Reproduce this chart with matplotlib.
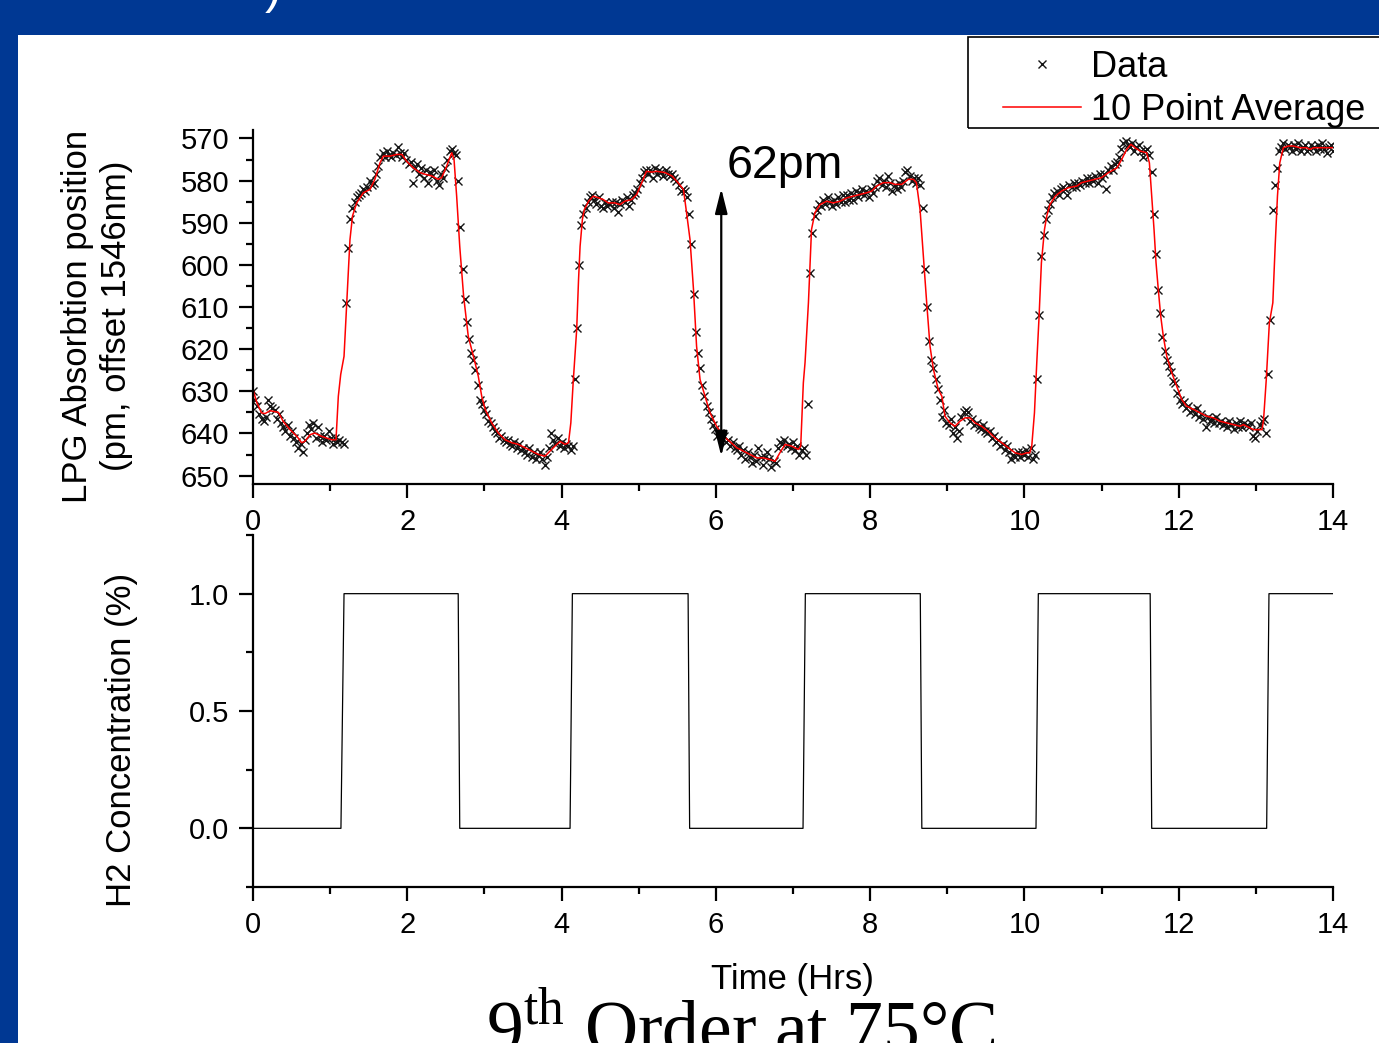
import matplotlib.pyplot as plt
from matplotlib.patches import Rectangle
from matplotlib.ticker import MultipleLocator
import numpy as np

plt.rcParams["font.family"] = ["Liberation Sans", "DejaVu Sans"]
plt.rcParams["mathtext.fontset"] = "custom"
plt.rcParams["mathtext.rm"] = "Liberation Serif"

SLIDE_BLUE = "#003893"

# LPG absorption position (pm, offset 1546nm), one reading every SAMPLE_HRS
SAMPLE_HRS = 0.028
LPG_POS = [
    630.0, 632.0, 633.5, 635.5, 636.5, 637.0, 636.0, 632.0, 633.5, 634.0,
    634.5, 636.5, 635.5, 637.5, 638.5, 639.5, 638.0, 640.5, 639.5, 641.0,
    642.0, 643.5, 642.5, 644.5, 641.5, 640.0, 638.0, 639.0, 637.5, 641.0,
    638.5, 640.5, 642.0, 640.5, 641.5, 639.5, 641.0, 642.5, 641.0, 642.0,
    641.5, 642.0, 642.5, 609.0, 596.0, 589.0, 586.5, 585.0, 584.0, 583.5,
    583.0, 582.0, 582.5, 581.5, 580.0, 581.0, 580.5, 578.5, 576.5, 574.5,
    573.5, 574.5, 573.0, 574.0, 574.5, 573.5, 574.0, 572.0, 573.5, 574.5,
    573.5, 575.0, 576.0, 575.5, 580.5, 577.0, 576.0, 578.5, 577.0, 579.5,
    577.5, 580.5, 578.0, 579.0, 577.5, 580.0, 581.0, 578.5, 579.5, 577.0,
    575.0, 573.0, 572.5, 573.5, 574.0, 580.0, 591.0, 601.0, 608.0, 613.5,
    617.5, 621.0, 622.5, 625.0, 628.5, 632.0, 633.0, 634.5, 635.5, 637.0,
    637.5, 638.5, 639.5, 640.0, 641.0, 640.5, 641.5, 642.0, 641.5, 642.5,
    643.0, 642.0, 643.5, 642.5, 644.0, 643.5, 644.5, 645.0, 643.5, 645.5,
    644.5, 646.0, 645.0, 644.5, 646.0, 647.5, 645.5, 643.5, 640.0, 641.5,
    642.5, 641.0, 643.0, 642.0, 643.5, 642.5, 643.0, 644.0, 643.0, 627.0,
    615.0, 600.0, 590.5, 588.0, 586.5, 585.0, 584.0, 583.5, 584.5, 585.5,
    584.0, 586.0, 586.5, 585.0, 586.0, 585.5, 585.0, 586.5, 585.0, 587.5,
    585.5, 584.5, 585.0, 584.0, 586.0, 584.5, 583.5, 583.0, 582.0, 580.5,
    579.5, 578.0, 577.5, 578.5, 577.5, 579.5, 577.0, 578.5, 577.5, 578.0,
    579.0, 577.5, 578.5, 579.0, 578.5, 579.5, 580.0, 581.0, 582.5, 582.0,
    582.5, 584.0, 588.0, 595.0, 607.0, 616.0, 621.0, 624.5, 628.5, 631.0,
    633.5, 635.0, 636.5, 638.0, 639.0, 640.5, 640.0, 641.0, 640.5, 642.0,
    641.5, 643.0, 642.0, 643.5, 644.0, 643.0, 645.0, 644.0, 646.0, 644.5,
    645.5, 647.0, 645.0, 646.5, 643.5, 645.5, 647.5, 645.5, 644.5, 646.0,
    648.0, 646.5, 647.0, 643.5, 642.0, 642.5, 641.5, 643.0, 642.5, 643.5,
    642.0, 644.0, 643.0, 645.0, 644.0, 643.5, 645.0, 633.0, 602.0, 592.5,
    588.5, 587.0, 585.5, 586.0, 584.5, 585.5, 584.0, 585.0, 586.0, 584.5,
    585.5, 584.0, 585.0, 583.5, 585.0, 583.5, 584.5, 583.0, 584.5, 582.5,
    584.0, 583.0, 582.0, 583.5, 582.5, 584.0, 582.0, 583.0, 581.5, 580.0,
    579.5, 581.0, 580.0, 581.5, 579.0, 580.5, 582.5, 581.0, 582.0, 580.5,
    581.5, 580.0, 578.0, 577.5, 579.0, 580.0, 579.5, 580.5, 579.5, 581.0,
    586.5, 601.0, 610.0, 618.0, 622.5, 624.5, 627.0, 629.5, 632.0, 636.0,
    634.5, 637.5, 638.0, 636.5, 640.0, 638.5, 641.0, 639.5, 636.0, 635.0,
    634.5, 635.0, 637.0, 636.5, 638.0, 637.5, 638.5, 639.0, 638.0, 639.5,
    640.0, 639.5, 641.0, 640.5, 642.0, 641.5, 643.0, 642.5, 644.0, 643.0,
    644.5, 646.0, 645.0, 645.5, 644.5, 645.5, 644.5, 645.0, 644.0, 645.5,
    643.5, 646.0, 645.0, 627.0, 612.0, 598.0, 593.0, 589.0, 587.0, 585.5,
    584.0, 583.0, 582.5, 583.5, 582.0, 581.5, 582.0, 583.5, 581.0, 581.5,
    580.5, 581.5, 580.5, 581.0, 580.0, 580.5, 579.5, 580.5, 579.5, 580.0,
    579.0, 580.5, 578.5, 579.5, 578.5, 582.0, 577.5, 576.5, 577.5, 576.0,
    575.5, 574.5, 572.5, 571.0, 570.5, 571.5, 572.0, 571.0, 573.0, 572.0,
    571.5, 573.0, 574.5, 573.0, 572.5, 574.0, 578.0, 588.0, 597.5, 606.0,
    611.5, 617.0, 620.5, 622.5, 624.0, 625.5, 627.5, 628.0, 630.5, 632.0,
    633.0, 632.5, 634.0, 633.5, 635.0, 634.5, 635.5, 634.0, 636.0, 635.5,
    636.5, 638.5, 636.0, 637.0, 636.5, 637.5, 636.0, 637.5, 637.0, 638.0,
    637.5, 638.5, 637.0, 638.0, 639.0, 637.5, 638.5, 637.0, 638.5, 637.5,
    638.0, 638.5, 637.5, 640.5, 641.0, 639.5, 638.0, 637.0, 636.5, 640.0,
    626.0, 613.0, 587.0, 581.0, 577.0, 573.0, 572.0, 571.0, 572.5, 571.5,
    572.0, 573.0, 571.5, 572.5, 571.0, 573.0, 572.0, 571.5, 573.0, 572.5,
    571.5, 572.0, 573.0, 571.5, 572.5, 571.0, 572.5, 573.5, 572.0, 571.5,
    573.0,
]

# 10 point average
AVG_T = [
    0.00, 0.05, 0.11, 0.156, 0.22, 0.33, 0.39, 0.48, 0.57, 0.63, 0.67, 0.74,
    0.80, 0.89, 0.955, 1.02, 1.076, 1.106, 1.137, 1.18, 1.215, 1.257, 1.29,
    1.344, 1.43, 1.517, 1.58, 1.646, 1.69, 1.776, 1.863, 1.93, 1.99, 2.08,
    2.165, 2.23, 2.317, 2.40, 2.446, 2.51, 2.576, 2.606, 2.64, 2.68, 2.73,
    2.79, 2.878, 2.92, 2.965, 3.01, 3.094, 3.18, 3.267, 3.354, 3.44, 3.526,
    3.613, 3.70, 3.785, 3.85, 3.915, 3.98, 4.045, 4.09, 4.12, 4.15, 4.196,
    4.22, 4.24, 4.27, 4.295, 4.35, 4.41, 4.48, 4.54, 4.606, 4.69, 4.757,
    4.82, 4.91, 4.974, 5.04, 5.10, 5.17, 5.23, 5.34, 5.43, 5.51, 5.58,
    5.62, 5.665, 5.71, 5.75, 5.795, 5.86, 5.924, 6.01, 6.10, 6.18, 6.27,
    6.356, 6.44, 6.53, 6.615, 6.70, 6.767, 6.83, 6.897, 6.98, 7.07, 7.10,
    7.134, 7.156, 7.20, 7.24, 7.285, 7.35, 7.437, 7.52, 7.61, 7.696, 7.78,
    7.87, 7.955, 8.02, 8.085, 8.17, 8.26, 8.32, 8.41, 8.495, 8.56, 8.60,
    8.647, 8.69, 8.733, 8.776, 8.82, 8.884, 8.93, 8.97, 9.035, 9.10, 9.165,
    9.23, 9.295, 9.36, 9.446, 9.53, 9.62, 9.706, 9.79, 9.88, 9.965, 10.03,
    10.07, 10.095, 10.13, 10.16, 10.19, 10.22, 10.26, 10.29, 10.33, 10.40,
    10.48, 10.57, 10.68, 10.74, 10.83, 10.915, 11.00, 11.09, 11.20, 11.26,
    11.326, 11.38, 11.434, 11.50, 11.585, 11.62, 11.65, 11.68, 11.706,
    11.735, 11.767, 11.80, 11.845, 11.91, 11.974, 12.04, 12.10, 12.19,
    12.276, 12.36, 12.45, 12.535, 12.62, 12.71, 12.795, 12.84, 12.88, 12.97,
    13.08, 13.10, 13.135, 13.175, 13.22, 13.25, 13.28, 13.31, 13.356, 13.42,
    13.486, 13.57, 13.66, 13.70, 13.75, 13.835, 14.00,
]
AVG_V = [
    629.6, 632.7, 635.1, 635.3, 634.6, 635.0, 637.1, 639.1, 640.7, 642.2, 641.9, 640.3,
    639.9, 640.7, 641.1, 641.5, 641.5, 631.2, 626.0, 621.7, 609.0, 594.0, 588.4,
    585.3, 582.9, 582.1, 579.7, 575.8, 574.2, 574.2, 573.8, 573.8, 575.4, 577.0,
    578.1, 578.5, 578.9, 579.7, 579.3, 576.6, 573.4, 575.0, 583.7, 595.6, 607.4,
    616.9, 623.2, 626.4, 631.2, 634.3, 637.5, 639.9, 641.5, 642.2, 642.6, 643.4,
    644.2, 645.0, 645.4, 644.2, 643.0, 641.9, 642.6, 642.2, 637.5, 628.0, 615.3,
    603.5, 595.6, 589.2, 586.9, 584.9, 583.7, 584.1, 584.5, 585.3, 585.3, 585.7,
    584.9, 584.5, 583.3, 580.5, 577.8, 578.0, 577.8, 578.1, 578.9, 580.5, 582.1,
    587.6, 594.0, 605.8, 619.3, 627.2, 631.2, 635.1, 638.3, 640.7, 641.9, 643.4,
    644.2, 645.0, 645.8, 645.8, 646.2, 646.6, 644.6, 642.6, 643.0, 643.8, 643.0,
    628.0, 623.2, 609.0, 591.6, 587.6, 585.7, 584.9, 585.3, 584.9, 584.1, 583.7,
    583.3, 582.9, 582.5, 581.3, 580.5, 580.5, 580.9, 580.9, 579.7, 579.7, 580.5,
    586.9, 597.9, 609.0, 619.3, 624.8, 629.6, 631.2, 635.9, 637.5, 638.3, 637.1,
    636.3, 636.3, 637.5, 638.3, 639.5, 641.1, 642.2, 643.4, 644.6, 645.0, 644.6,
    644.6, 643.0, 635.1, 623.2, 612.2, 599.5, 591.6, 588.4, 585.7, 583.7,
    582.5, 581.7, 581.3, 580.5, 580.1, 579.7, 579.3, 578.1, 577.0, 575.0,
    572.6, 571.4, 572.2, 573.0, 573.4, 575.8, 583.7, 591.6, 599.5,
    605.8, 612.2, 616.9, 621.7, 625.6, 628.8, 632.0, 633.5, 634.3,
    635.1, 635.9, 636.3, 637.1, 637.5, 637.9, 638.3, 637.9, 638.3, 639.1,
    639.1, 636.7, 627.2, 613.8, 609.0, 595.6, 583.7, 575.8, 572.2, 571.8,
    571.8, 572.2, 572.2, 572.6, 572.2, 572.2, 572.2,
]

# H2 concentration switching (%)
H2_T = [0, 1.14, 1.18, 2.66, 2.68, 4.11, 4.14, 5.64, 5.66, 7.13, 7.16,
        8.65, 8.67, 10.15, 10.18, 11.63, 11.65, 13.14, 13.17, 14.0]
H2_CONC = [0, 0, 1, 1, 0, 0, 1, 1, 0, 0, 1, 1, 0, 0, 1, 1, 0, 0, 1, 1]

W, H = 1379, 1043


def style_axis(ax, ylim, ymajor, yminor):
    for side in ("top", "right"):
        ax.spines[side].set_visible(False)
    for side in ("left", "bottom"):
        ax.spines[side].set_linewidth(1.6)
    ax.set_facecolor("none")
    ax.set_xlim(0, 14)
    ax.set_ylim(*ylim)
    ax.xaxis.set_major_locator(MultipleLocator(2))
    ax.xaxis.set_minor_locator(MultipleLocator(1))
    ax.yaxis.set_major_locator(MultipleLocator(ymajor))
    ax.yaxis.set_minor_locator(MultipleLocator(yminor))
    ax.tick_params(which="major", direction="out", length=10, width=1.6,
                   labelsize=21, pad=7)
    ax.tick_params(which="minor", direction="out", length=5, width=1.6)


fig = plt.figure(figsize=(W / 100, H / 100), dpi=100)
fig.patch.set_facecolor(SLIDE_BLUE)
fig.add_artist(Rectangle((18 / W, 0), 1, (H - 35) / H, transform=fig.transFigure,
                         facecolor="white", edgecolor="none", zorder=-10))

# top axes: absorption position
ax1 = fig.add_axes([253 / W, (H - 484) / H, 1080 / W, 354 / H])
style_axis(ax1, (652, 568), 10, 5)
times = np.arange(len(LPG_POS)) * SAMPLE_HRS
ax1.plot(times, LPG_POS, linestyle="none", marker="x", ms=6, mew=1.0,
         color="#151515", label="Data")
ax1.plot(AVG_T, AVG_V, color="red", lw=1.1, label="10 Point Average")

ax1.annotate("", xy=(6.07, 645.4), xytext=(6.07, 581.9),
             arrowprops=dict(arrowstyle="<|-|>,head_length=0.6,head_width=0.15",
                             color="black", lw=1.6, mutation_scale=25,
                             shrinkA=0, shrinkB=0))
ax1.text(6.14, 579.3, "62pm", fontsize=33.5, ha="left", va="baseline")

# bottom axes: H2 concentration
ax2 = fig.add_axes([253 / W, (H - 887) / H, 1080 / W, 352 / H])
style_axis(ax2, (-0.25, 1.25), 0.5, 0.25)
ax2.plot(H2_T, H2_CONC, color="black", lw=0.9)

# legend with its own frame running off the right edge
fig.add_artist(Rectangle((968 / W, (H - 128) / H), 0.5, 91 / H,
                         transform=fig.transFigure, fill=False,
                         edgecolor="black", lw=1.2, zorder=5))
ax1.legend(loc="upper left", bbox_to_anchor=(1003 / W, 1 - 50 / H),
           bbox_transform=fig.transFigure, frameon=False, fontsize=26,
           handlelength=2.15, handletextpad=0.3, labelspacing=0.22,
           borderpad=0, borderaxespad=0)

fig.text(97 / W, 1 - 316 / H, "LPG Absorbtion position\n(pm, offset 1546nm)",
         rotation=90, ha="center", va="center", fontsize=25, linespacing=1.25)
fig.text(121 / W, 1 - 740 / H, "H2 Concentration (%)", rotation=90,
         ha="center", va="center", fontsize=25)
fig.text(792 / W, 1 - 980 / H, "Time (Hrs)", ha="center", va="center", fontsize=25)

# slide title above (cut off) and slide caption below (cut off)
fig.text(265 / W, 1 - 13 / H, ")", color="white", fontsize=36, va="bottom")
fig.text(741 / W, -10 / H, r"9$^{\mathrm{th}}$ Order at 75°C", fontsize=53,
         family=["Liberation Serif", "DejaVu Serif"], ha="center", va="baseline")

fig.savefig("out.png", dpi=100, facecolor=fig.get_facecolor())
